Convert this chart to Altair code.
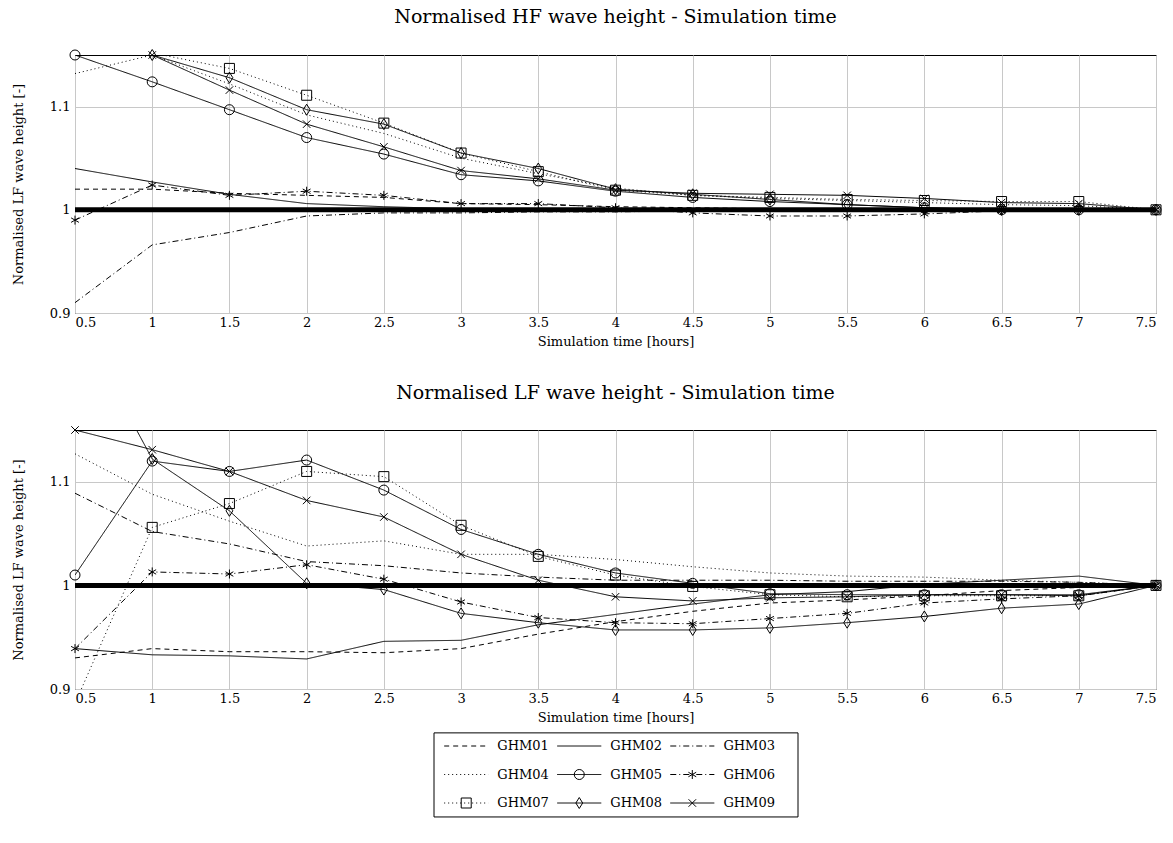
import altair as alt
import pandas as pd

HOURS = [0.5, 1.0, 1.5, 2.0, 2.5, 3.0, 3.5, 4.0, 4.5, 5.0, 5.5, 6.0, 6.5, 7.0, 7.5]
SERIES = ["GHM01", "GHM02", "GHM03", "GHM04", "GHM05", "GHM06", "GHM07", "GHM08", "GHM09"]
MARKED = ["GHM05", "GHM06", "GHM07", "GHM08", "GHM09"]
Y_TICKS = [0.9, 1.0, 1.1]

# Normalised HF wave height (top panel)
HF_GHM01 = [1.020, 1.020, 1.016, 1.014, 1.012, 1.006, 1.005, 1.003, 1.002, 1.001, 1.000, 1.000, 1.000, 1.000, 1.000]
HF_GHM02 = [1.040, 1.027, 1.015, 1.006, 1.003, 1.001, 1.000, 1.000, 1.000, 1.000, 1.000, 1.000, 1.000, 1.000, 1.000]
HF_GHM03 = [0.910, 0.966, 0.978, 0.994, 0.997, 0.997, 0.998, 0.998, 0.999, 0.999, 0.999, 1.000, 1.000, 1.000, 1.000]
HF_GHM04 = [1.132, 1.150, 1.122, 1.092, 1.074, 1.050, 1.035, 1.021, 1.014, 1.011, 1.009, 1.007, 1.005, 1.004, 1.000]
HF_GHM05 = [1.150, 1.124, 1.097, 1.070, 1.054, 1.034, 1.028, 1.018, 1.012, 1.008, 1.005, 1.002, 1.000, 1.000, 1.000]
HF_GHM06 = [0.990, 1.024, 1.014, 1.018, 1.014, 1.006, 1.006, 1.002, 0.997, 0.994, 0.994, 0.996, 0.999, 1.000, 1.000]
HF_GHM07 = [1.180, 1.152, 1.137, 1.111, 1.084, 1.055, 1.037, 1.019, 1.014, 1.012, 1.010, 1.009, 1.008, 1.008, 1.000]
HF_GHM08 = [1.180, 1.150, 1.128, 1.097, 1.083, 1.055, 1.040, 1.020, 1.015, 1.010, 1.005, 1.002, 1.000, 1.000, 1.000]
HF_GHM09 = [1.180, 1.150, 1.116, 1.083, 1.061, 1.038, 1.030, 1.019, 1.016, 1.015, 1.014, 1.011, 1.007, 1.006, 1.000]

# Normalised LF wave height (bottom panel)
LF_GHM01 = [0.930, 0.939, 0.936, 0.936, 0.935, 0.939, 0.953, 0.965, 0.975, 0.983, 0.986, 0.990, 0.995, 0.998, 1.000]
LF_GHM02 = [0.939, 0.933, 0.932, 0.929, 0.946, 0.947, 0.962, 0.972, 0.982, 0.991, 0.994, 1.001, 1.005, 1.009, 1.000]
LF_GHM03 = [1.089, 1.052, 1.040, 1.023, 1.019, 1.012, 1.008, 1.005, 1.005, 1.005, 1.004, 1.004, 1.004, 1.003, 1.000]
LF_GHM04 = [1.127, 1.088, 1.062, 1.038, 1.043, 1.030, 1.030, 1.025, 1.018, 1.012, 1.009, 1.008, 1.005, 1.003, 1.000]
LF_GHM05 = [1.010, 1.120, 1.110, 1.121, 1.092, 1.054, 1.030, 1.012, 1.002, 0.992, 0.991, 0.991, 0.991, 0.991, 1.000]
LF_GHM06 = [0.939, 1.013, 1.011, 1.020, 1.006, 0.984, 0.969, 0.964, 0.963, 0.968, 0.973, 0.983, 0.987, 0.990, 1.000]
LF_GHM07 = [0.886, 1.056, 1.079, 1.110, 1.105, 1.058, 1.028, 1.010, 0.999, 0.991, 0.989, 0.990, 0.990, 0.990, 1.000]
LF_GHM08 = [1.260, 1.122, 1.072, 1.002, 0.996, 0.973, 0.964, 0.957, 0.957, 0.959, 0.964, 0.970, 0.978, 0.982, 1.000]
LF_GHM09 = [1.150, 1.131, 1.110, 1.082, 1.066, 1.030, 1.005, 0.989, 0.985, 0.988, 0.989, 0.991, 0.991, 0.990, 1.000]

HF = dict(zip(SERIES, [HF_GHM01, HF_GHM02, HF_GHM03, HF_GHM04, HF_GHM05, HF_GHM06, HF_GHM07, HF_GHM08, HF_GHM09]))
LF = dict(zip(SERIES, [LF_GHM01, LF_GHM02, LF_GHM03, LF_GHM04, LF_GHM05, LF_GHM06, LF_GHM07, LF_GHM08, LF_GHM09]))

FONT = "DejaVu Serif"

# styles
DASH_RANGE = [[5, 4], [1, 0], [6, 3, 1, 3], [1, 3], [1, 0], [6, 3, 1, 3], [1, 3], [1, 0], [1, 0]]
SHAPE_RANGE = [
    "circle",
    "M0,-0.9L0,0.9M-0.78,-0.45L0.78,0.45M-0.78,0.45L0.78,-0.45",
    "square",
    "M0,-1.1L0.68,0L0,1.1L-0.68,0Z",
    "M-0.75,-0.75L0.75,0.75M-0.75,0.75L0.75,-0.75",
]

rows = []
for panel_name, table in (("HF", HF), ("LF", LF)):
    for s in SERIES:
        for h, v in zip(HOURS, table[s]):
            rows.append({"panel": panel_name, "series": s, "hours": h, "value": v})
df = pd.DataFrame(rows)

dash_scale = alt.Scale(domain=SERIES, range=DASH_RANGE)
shape_scale = alt.Scale(domain=MARKED, range=SHAPE_RANGE)
x_scale = alt.Scale(domain=[0.5, 7.5], nice=False, zero=False)
y_scale = alt.Scale(domain=[0.9, 1.15], nice=False, zero=False)

x_axis = alt.Axis(values=HOURS, format="~g", title="Simulation time [hours]",
                  labelPadding=3, titlePadding=6)
y_axis = alt.Axis(values=Y_TICKS, format="~g", title="Normalised LF wave height [-]",
                  labelPadding=5, titlePadding=24)


def main_layers(panel_name):
    d = df[df["panel"] == panel_name]
    base = alt.Chart(d)
    x = alt.X("hours:Q", scale=x_scale, axis=x_axis)
    y = alt.Y("value:Q", scale=y_scale, axis=y_axis)
    lines = base.mark_line(color="black", strokeWidth=1, clip=True).encode(
        x=x, y=y,
        strokeDash=alt.StrokeDash("series:N", scale=dash_scale, legend=None),
        detail="series:N",
    )
    pts = base.transform_filter(
        alt.FieldOneOfPredicate(field="series", oneOf=MARKED)
    ).transform_filter(
        "datum.value >= 0.9 && datum.value <= 1.1501"
    ).mark_point(filled=False, color="black", strokeWidth=1, size=100, opacity=1).encode(
        x=x, y=y,
        shape=alt.Shape("series:N", scale=shape_scale, legend=None),
    )
    ref = alt.Chart(pd.DataFrame({"ref": [1.0]})).mark_rule(color="black", strokeWidth=5).encode(
        y=alt.datum(1.0)
    )
    return alt.layer(lines, pts, ref)


# legend (drawn below the bottom panel)
leg_df = pd.DataFrame({
    "series": SERIES,
    "col": [i % 3 for i in range(len(SERIES))],
    "row": [i // 3 for i in range(len(SERIES))],
})
LEG_X = alt.Scale(domain=[0, 3.22], range=[359, 723], nice=False, zero=False)
LEG_Y = alt.Scale(domain=[0, 2], range=[316, 373], nice=False, zero=False)

leg_base = alt.Chart(leg_df).transform_calculate(
    x0="datum.col + 0.09", x1="datum.col + 0.48", xm="datum.col + 0.285", xl="datum.col + 0.56"
)
leg_lines = leg_base.mark_rule(color="black", strokeWidth=1).encode(
    x=alt.X("x0:Q", scale=LEG_X, axis=None), x2="x1:Q",
    y=alt.Y("row:Q", scale=LEG_Y, axis=None),
    strokeDash=alt.StrokeDash("series:N", scale=dash_scale, legend=None),
)
leg_pts = leg_base.transform_filter(
    alt.FieldOneOfPredicate(field="series", oneOf=MARKED)
).mark_point(filled=False, color="black", strokeWidth=1, size=100, opacity=1).encode(
    x=alt.X("xm:Q", scale=LEG_X, axis=None),
    y=alt.Y("row:Q", scale=LEG_Y, axis=None),
    shape=alt.Shape("series:N", scale=shape_scale, legend=None),
)
leg_text = leg_base.mark_text(align="left", baseline="middle", font=FONT, fontSize=13, color="black").encode(
    x=alt.X("xl:Q", scale=LEG_X, axis=None),
    y=alt.Y("row:Q", scale=LEG_Y, axis=None),
    text="series:N",
)
leg_box = alt.Chart(pd.DataFrame({"box": [1]})).mark_rect(
    fill="transparent", stroke="black", strokeWidth=1
).encode(
    x=alt.datum(0, scale=LEG_X, axis=None), x2=alt.datum(3.22),
    y=alt.datum(-0.46, scale=LEG_Y, axis=None), y2=alt.datum(2.49),
)
legend = alt.layer(leg_box, leg_lines, leg_pts, leg_text)

title_kw = dict(fontSize=19, font=FONT, fontWeight="normal", color="black", offset=21, anchor="middle")

top = main_layers("HF").properties(
    width=1081, height=258,
    title=alt.TitleParams("Normalised HF wave height - Simulation time", **title_kw),
)
bottom = alt.layer(main_layers("LF"), legend).resolve_scale(
    x="independent", y="independent"
).properties(
    width=1081, height=259,
    title=alt.TitleParams("Normalised LF wave height - Simulation time", **title_kw),
)

chart = alt.vconcat(top, bottom, spacing=117, bounds="flush").properties(
    padding={"left": 11, "top": 7, "right": 8, "bottom": 8}
).configure_view(
    stroke="black", strokeWidth=1
).configure_axis(
    labelFont=FONT, titleFont=FONT, labelFontSize=13, titleFontSize=13,
    labelColor="black", titleColor="black", titleFontWeight="normal",
    gridColor="#c8c8c8", gridWidth=1, domain=False, ticks=False,
)

chart.save("out.html", embed_options={"renderer": "svg", "actions": False})
